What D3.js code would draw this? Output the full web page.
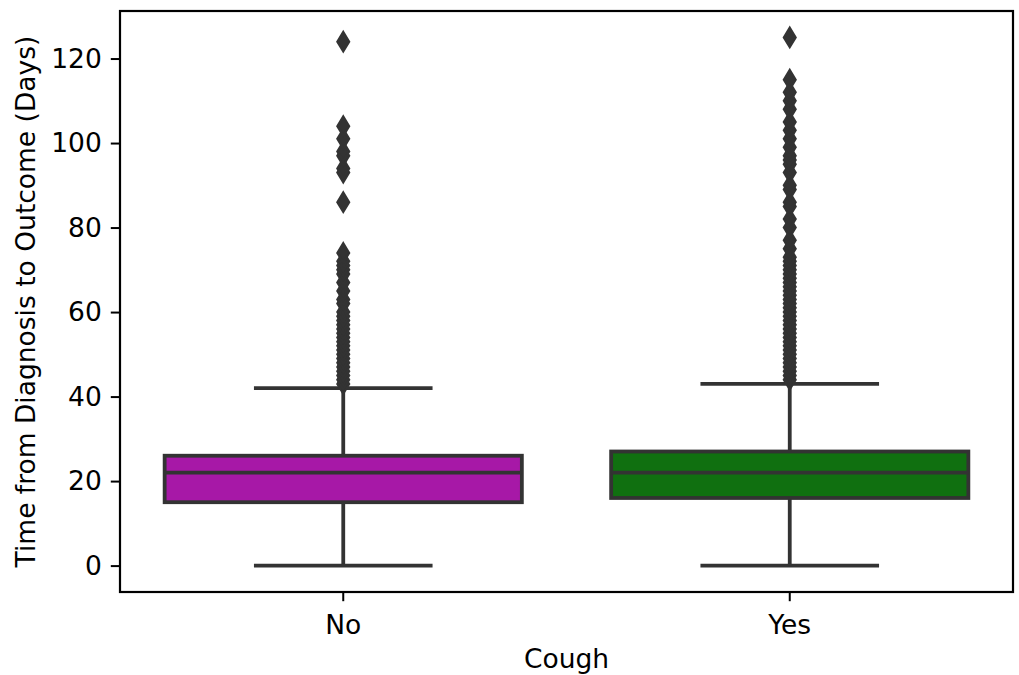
<!DOCTYPE html>
<html>
<head>
<meta charset="utf-8">
<script src="https://cdn.jsdelivr.net/npm/d3@7"></script>
<style>
  body { margin: 0; background: #fff; }
  svg { display: block; font-family: 'DejaVu Sans', sans-serif; }
</style>
</head>
<body>
<script>
// Data
const categories = ['No', 'Yes'];
const boxColors = ['#a718a7', '#107010'];
const q1 = [15, 16];
const medians = [22, 22];
const q3 = [26, 27];
const whiskerLow = [0, 0];
const whiskerHigh = [42, 43];
const outliersNo = [43, 44, 45, 46, 47, 48, 49, 50, 51, 52, 53, 54, 55, 56, 57, 58, 59, 60,
  62, 63, 65, 67, 69, 70, 71, 72, 74, 86, 93, 94, 97, 98, 101, 104, 124];
const outliersYes = [44, 45, 46, 47, 48, 49, 50, 51, 52, 53, 54, 55, 56, 57, 58, 59, 60, 61,
  62, 63, 64, 65, 66, 67, 68, 69, 70, 71, 72, 73, 75, 77, 80, 82, 85, 86, 89, 90, 93, 95,
  96, 97, 99, 101, 103, 105, 108, 110, 112, 115, 125];
const yTicks = [0, 20, 40, 60, 80, 100, 120];

const fullWidth = 1019;
const fullHeight = 675;
const margin = { top: 11, right: 6, bottom: 83, left: 120 };
const width = fullWidth - margin.left - margin.right;
const height = fullHeight - margin.top - margin.bottom;

const gray = '#333333';
const fontSize = 26.5;
const lineW = 3.8;

const boxes = categories.map((c, i) => ({
  cat: c,
  color: boxColors[i],
  q1: q1[i],
  med: medians[i],
  q3: q3[i],
  lo: whiskerLow[i],
  hi: whiskerHigh[i],
  fliers: i === 0 ? outliersNo : outliersYes,
}));

const x = d3.scaleBand()
  .domain(categories)
  .range([0, width])
  .padding(0);

const y = d3.scaleLinear()
  .domain([-6.25, 131.25])
  .range([height, 0]);

const boxW = x.bandwidth() * 0.8;
const capW = boxW / 2;

const svg = d3.select('body')
  .append('svg')
  .attr('width', fullWidth)
  .attr('height', fullHeight)
  .append('g')
  .attr('transform', `translate(${margin.left}, ${margin.top})`);

const g = svg.selectAll('.box')
  .data(boxes)
  .enter()
  .append('g')
  .attr('class', 'box')
  .attr('transform', d => `translate(${x(d.cat) + x.bandwidth() / 2}, 0)`);

// whiskers
g.append('line')
  .attr('x1', 0).attr('x2', 0)
  .attr('y1', d => y(d.q3)).attr('y2', d => y(d.hi))
  .attr('stroke', gray).attr('stroke-width', lineW);
g.append('line')
  .attr('x1', 0).attr('x2', 0)
  .attr('y1', d => y(d.q1)).attr('y2', d => y(d.lo))
  .attr('stroke', gray).attr('stroke-width', lineW);

// caps
['hi', 'lo'].forEach((k) => {
  g.append('line')
    .attr('x1', -capW / 2).attr('x2', capW / 2)
    .attr('y1', d => y(d[k])).attr('y2', d => y(d[k]))
    .attr('stroke', gray).attr('stroke-width', lineW);
});

// box
g.append('rect')
  .attr('x', -boxW / 2)
  .attr('width', boxW)
  .attr('y', d => y(d.q3))
  .attr('height', d => y(d.q1) - y(d.q3))
  .attr('fill', d => d.color)
  .attr('stroke', gray)
  .attr('stroke-width', lineW);

// median
g.append('line')
  .attr('x1', -boxW / 2).attr('x2', boxW / 2)
  .attr('y1', d => y(d.med)).attr('y2', d => y(d.med))
  .attr('stroke', gray).attr('stroke-width', lineW);

// fliers (thin diamonds)
const dh = 9.6;
const dw = 5.8;
const diamond = `M0,${-dh}L${dw},0L0,${dh}L${-dw},0Z`;
g.selectAll('.flier')
  .data(d => d.fliers)
  .enter()
  .append('path')
  .attr('class', 'flier')
  .attr('d', diamond)
  .attr('transform', v => `translate(0, ${y(v)})`)
  .attr('fill', gray)
  .attr('stroke', gray)
  .attr('stroke-width', 2.4)
  .attr('stroke-linejoin', 'miter');

// axes
const yAxis = d3.axisLeft(y)
  .tickValues(yTicks)
  .tickSize(9.2)
  .tickPadding(9)
  .tickSizeOuter(0);

const yg = svg.append('g')
  .call(yAxis);
yg.select('.domain').remove();
yg.selectAll('.tick line').attr('stroke', '#000').attr('stroke-width', 2);
yg.selectAll('.tick text')
  .attr('fill', '#000')
  .style('font-size', `${fontSize}px`)
  .style('font-family', 'DejaVu Sans');

const xAxis = d3.axisBottom(x)
  .tickSize(9.2)
  .tickPadding(14)
  .tickSizeOuter(0);

const xg = svg.append('g')
  .attr('transform', `translate(0, ${height})`)
  .call(xAxis);
xg.select('.domain').remove();
xg.selectAll('.tick line').attr('stroke', '#000').attr('stroke-width', 2);
xg.selectAll('.tick text')
  .attr('fill', '#000')
  .style('font-size', `${fontSize}px`)
  .style('font-family', 'DejaVu Sans');

// frame
svg.append('rect')
  .attr('x', 0)
  .attr('y', 0)
  .attr('width', width)
  .attr('height', height)
  .attr('fill', 'none')
  .attr('stroke', '#000')
  .attr('stroke-width', 2.2);

// axis labels
svg.append('text')
  .attr('transform', `translate(${35 - margin.left}, ${height / 2}) rotate(-90)`)
  .attr('text-anchor', 'middle')
  .style('font-size', `${fontSize}px`)
  .text('Time from Diagnosis to Outcome (Days)');

svg.append('text')
  .attr('x', width / 2)
  .attr('y', height + 76)
  .attr('text-anchor', 'middle')
  .style('font-size', `${fontSize}px`)
  .text('Cough');
</script>
</body>
</html>
